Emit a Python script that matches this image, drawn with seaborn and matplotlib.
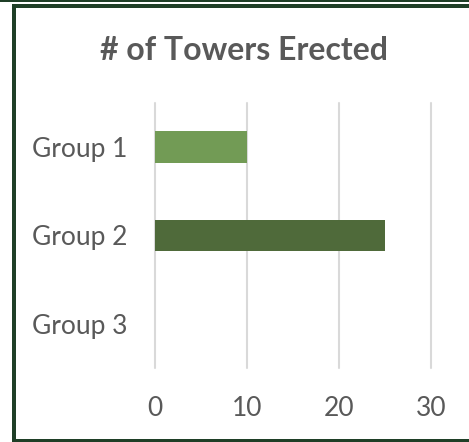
import matplotlib
matplotlib.use('Agg')
import matplotlib.pyplot as plt
import seaborn as sns
import pandas as pd
from matplotlib.patches import Rectangle

groups = ['Group 1', 'Group 2', 'Group 3']
towers = [10, 25, 0]
bar_colors = ['#70A64A', '#4E7232', '#4E7232']

W, H = 469, 442
sns.set_style('white')
plt.rcParams['font.family'] = ['Lato', 'DejaVu Sans']

df = pd.DataFrame({'group': groups, 'towers': towers})

fig = plt.figure(figsize=(W / 100, H / 100), dpi=100)
ax = fig.add_axes([155 / W, 1 - 368 / H, (431 - 155) / W, (368 - 103) / H])
sns.barplot(data=df, y='group', x='towers', hue='group', palette=bar_colors,
            orient='h', width=0.36, legend=False, ax=ax, zorder=3,
            linewidth=0)

ax.set_xlim(0, 30)
ax.set_xticks([0, 10, 20, 30])
ax.grid(axis='x', color='#D9D9D9', linewidth=1.5, zorder=0)
ax.grid(axis='y', visible=False)
for gl in ax.get_xgridlines():
    gl.set_clip_on(False)
for s in ax.spines.values():
    s.set_visible(False)
ax.tick_params(length=0, labelsize=19, colors='#595959')
ax.tick_params(axis='y', pad=20)
ax.tick_params(axis='x', pad=20)
ax.set_xlabel(None)
ax.set_ylabel(None)

fig.text(244 / W, 1 - 50 / H, '# of Towers Erected', ha='center', va='center',
         fontsize=23, fontweight='bold', color='#595959')

# dark green frame
border = '#1F3F27'
def px_rect(x0, y0, x1, y1):
    fig.add_artist(Rectangle((x0 / W, 1 - y1 / H), (x1 - x0) / W, (y1 - y0) / H,
                             transform=fig.transFigure, color=border, lw=0))
px_rect(0, 0, W, 2)
px_rect(12, 4, W, 8)
px_rect(12, 4, 16, H)
px_rect(12, 439, W, H)

fig.savefig('out.png', dpi=100)
